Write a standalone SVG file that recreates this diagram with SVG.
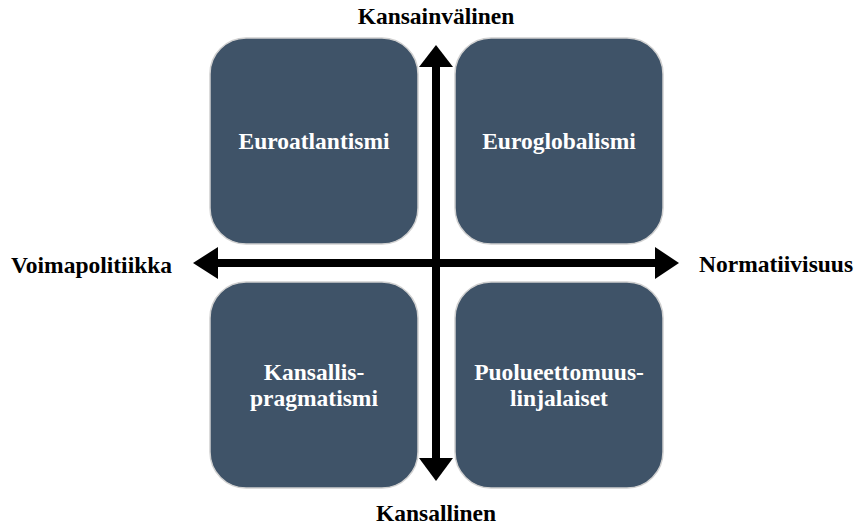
<svg xmlns="http://www.w3.org/2000/svg" width="858" height="527" viewBox="0 0 858 527">
<style>
.box{fill:#3F5368;stroke:#D0D0D0;stroke-width:1.5}
.bt{font-family:"Liberation Serif",serif;font-weight:bold;font-size:23.5px;fill:#FFFFFF;text-anchor:middle}
.lb{font-family:"Liberation Serif",serif;font-weight:bold;font-size:23.5px;fill:#000000}
.ax{stroke:#000;stroke-width:8;fill:none}
</style>
<rect width="858" height="527" fill="#fff"/>
<g id="euroatlantismi"><rect class="box" x="210" y="38" width="208" height="206" rx="36"/><text class="bt" x="314" y="149">Euroatlantismi</text></g>
<g id="euroglobalismi"><rect class="box" x="455" y="38" width="208" height="206" rx="36"/><text class="bt" x="559" y="149">Euroglobalismi</text></g>
<g id="kansallispragmatismi"><rect class="box" x="210" y="282" width="208" height="206" rx="36"/><text class="bt" x="314" y="380">Kansallis-</text><text class="bt" x="314" y="406">pragmatismi</text></g>
<g id="puolueettomuuslinjalaiset"><rect class="box" x="455" y="282" width="208" height="206" rx="36"/><text class="bt" x="559" y="380">Puolueettomuus-</text><text class="bt" x="559" y="406">linjalaiset</text></g>
<g id="connectors">
<line class="ax" x1="436" y1="66" x2="436" y2="459"/>
<polygon points="436,45 453,67 419,67"/>
<polygon points="436,481 453,458 419,458"/>
<line class="ax" x1="217" y1="263" x2="656" y2="263"/>
<polygon points="193,263 218,247 218,279"/>
<polygon points="679,263 655,247 655,279"/>
</g>
<g id="labels">
<text class="lb" x="436" y="24" text-anchor="middle">Kansainvälinen</text>
<text class="lb" x="436" y="521" text-anchor="middle">Kansallinen</text>
<text class="lb" x="11" y="273">Voimapolitiikka</text>
<text class="lb" x="699" y="272">Normatiivisuus</text>
</g>
</svg>
